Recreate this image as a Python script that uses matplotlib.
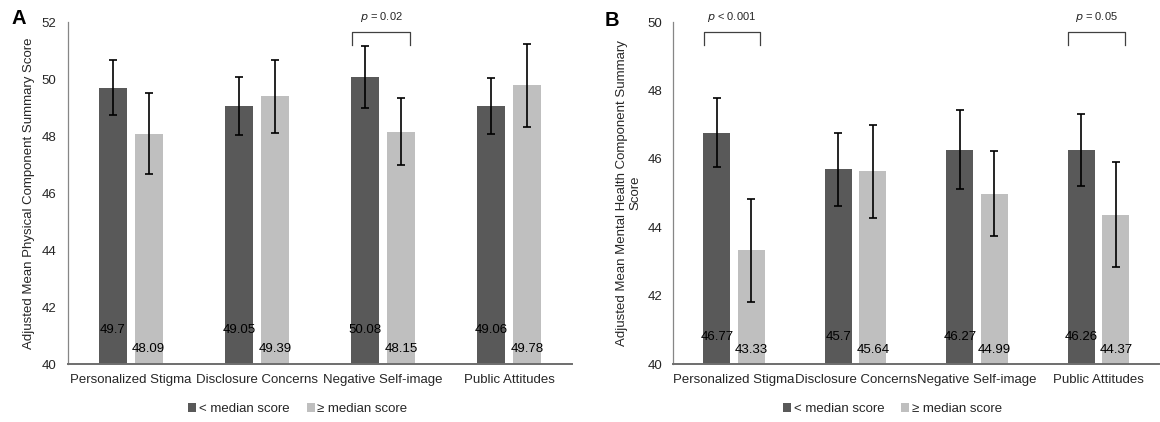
import numpy as np
import matplotlib.pyplot as plt

plt.rcParams['font.family'] = ['Liberation Sans', 'DejaVu Sans']

categories = ['Personalized Stigma', 'Disclosure Concerns', 'Negative Self-image', 'Public Attitudes']
series_names = ['< median score', '\u2265 median score']

# panel A: physical component
pcs_low = [49.7, 49.05, 50.08, 49.06]
pcs_high = [48.09, 49.39, 48.15, 49.78]
pcs_low_err = [0.97, 1.02, 1.09, 0.97]
pcs_high_err = [1.42, 1.28, 1.17, 1.46]
pcs_pvals = {2: 'p = 0.02'}

# panel B: mental component
mcs_low = [46.77, 45.7, 46.27, 46.26]
mcs_high = [43.33, 45.64, 44.99, 44.37]
mcs_low_err = [1.01, 1.07, 1.16, 1.05]
mcs_high_err = [1.5, 1.36, 1.24, 1.54]
mcs_pvals = {0: 'p < 0.001', 3: 'p = 0.05'}

DARK = '#595959'
LIGHT = '#bfbfbf'
TXT = '#262626'
FS = 9.5


def panel(ax, low, high, low_err, high_err, pvals, ymax, ylabel, lab_y, ylab_x, leg_x):
    x = np.arange(len(categories))
    w = 0.222
    off = 0.142
    ekw = dict(ecolor='black', capsize=2.6, elinewidth=1.2, capthick=1.2)
    ax.bar(x - off, low, w, color=DARK, yerr=low_err, error_kw=ekw, label=series_names[0])
    ax.bar(x + off, high, w, color=LIGHT, yerr=high_err, error_kw=ekw, label=series_names[1])
    for i in range(len(x)):
        ax.text(x[i] - off, lab_y[0], f'{low[i]:g}', ha='center', va='center', fontsize=FS, color='black')
        ax.text(x[i] + off, lab_y[1], f'{high[i]:g}', ha='center', va='center', fontsize=FS, color='black')
    ax.set_xlim(-0.5, len(x) - 0.5)
    ax.set_ylim(40, ymax)
    ax.set_yticks(np.arange(40, ymax + 0.1, 2))
    ax.set_xticks(x)
    ax.set_xticklabels(categories)
    ax.tick_params(length=0, labelsize=FS, labelcolor=TXT)
    ax.tick_params(axis='x', pad=7)
    ax.tick_params(axis='y', pad=8)
    for s in ['top', 'right']:
        ax.spines[s].set_visible(False)
    ax.spines['left'].set_color('#868686')
    ax.spines['left'].set_linewidth(0.9)
    ax.spines['bottom'].set_color('#6e6e6e')
    ax.spines['bottom'].set_linewidth(1.4)
    ax.set_ylabel(ylabel, fontsize=FS, color=TXT)
    ax.yaxis.set_label_coords(ylab_x, 0.5)
    rng = ymax - 40
    for i, txt in pvals.items():
        x0, x1 = x[i] - 0.25, x[i] + 0.215
        top = ymax - rng * 0.030
        leg = ymax - rng * 0.067
        ax.plot([x0, x0, x1, x1], [leg, top, top, leg], color='#404040', lw=0.9, clip_on=False)
        rest = txt.split(' ', 1)[1]
        ax.text((x0 + x1) / 2, ymax + rng * 0.0155, r'$\it{p}$ ' + rest, ha='center', va='center',
                fontsize=8, color=TXT, clip_on=False)
    ax.legend(loc='center', bbox_to_anchor=(leg_x, -0.131), ncol=2, frameon=False, fontsize=FS,
              handlelength=0.6, handleheight=0.6, handletextpad=0.2, columnspacing=1.3,
              labelcolor=TXT, borderaxespad=0, borderpad=0)


fig = plt.figure(figsize=(11.6, 4.22), dpi=100)
axA = fig.add_axes([0.0583, 0.1367, 0.4352, 0.8111])
axB = fig.add_axes([0.5804, 0.1367, 0.4190, 0.8111])

panel(axA, pcs_low, pcs_high, pcs_low_err, pcs_high_err, pcs_pvals, 52,
      'Adjusted Mean Physical Component Summary Score', (41.2, 40.53), -0.064, 0.456)
panel(axB, mcs_low, mcs_high, mcs_low_err, mcs_high_err, mcs_pvals, 50,
      'Adjusted Mean Mental Health Component Summary\nScore', (40.81, 40.41), -0.065, 0.451)

fig.text(11 / 1160, 1 - 18 / 422, 'A', fontsize=14.5, fontweight='bold', ha='left', va='center')
fig.text(605 / 1160, 1 - 20 / 422, 'B', fontsize=14.5, fontweight='bold', ha='left', va='center')

fig.savefig('out.png', dpi=100)
